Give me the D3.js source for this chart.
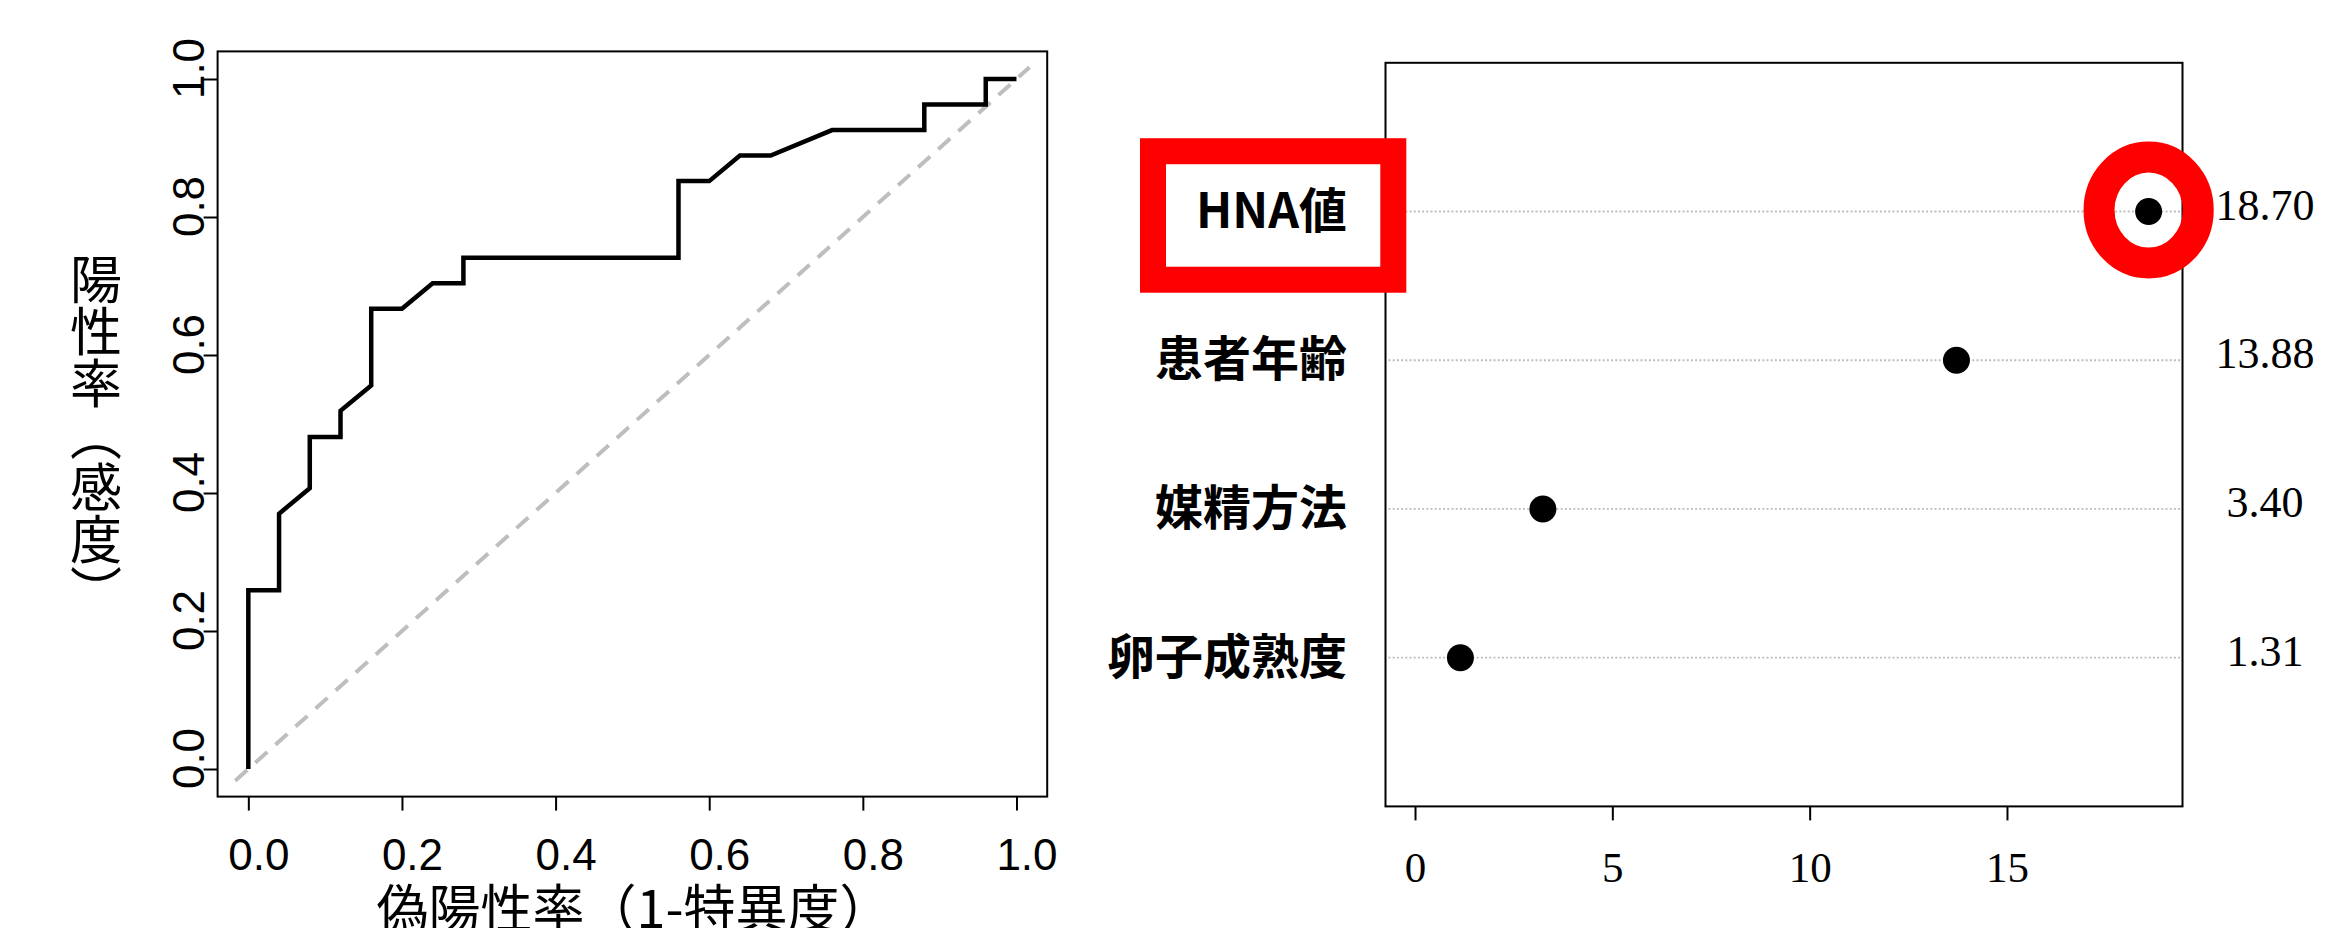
<!DOCTYPE html>
<html>
<head>
<meta charset="utf-8">
<script src="https://cdn.jsdelivr.net/npm/d3@7"></script>
<style>
	html, body { margin: 0; padding: 0; background: #fff; }
	#canvas { width: 2329px; height: 928px; }
</style>
</head>
<body>
<div id="canvas"></div>
<script>
// ROC curve (false positive rate vs sensitivity)
const fpr = [0, 0, 0.04, 0.04, 0.08, 0.08, 0.12, 0.12, 0.16, 0.16, 0.2, 0.24, 0.28, 0.28, 0.56, 0.56, 0.6, 0.64, 0.68, 0.76, 0.88, 0.88, 0.96, 0.96, 1.0];
const tpr = [0, 0.259, 0.259, 0.37, 0.407, 0.481, 0.481, 0.519, 0.556, 0.667, 0.667, 0.704, 0.704, 0.741, 0.741, 0.852, 0.852, 0.889, 0.889, 0.926, 0.926, 0.963, 0.963, 1.0, 1.0];
const diagonal = [-0.017, 1.017];
const rocTicks = [0, 0.2, 0.4, 0.6, 0.8, 1.0];

// variable importance dot chart
const factors = ['HNA値', '患者年齢', '媒精方法', '卵子成熟度'];
const importance = [18.59, 13.72, 3.24, 1.15];
const importanceLabels = ['18.70', '13.88', '3.40', '1.31'];
const importanceTicks = [0, 5, 10, 15];

const W = 2329, H = 928;

const svg = d3.select('#canvas').append('svg')
	.attr('width', W).attr('height', H)
	.style('background', '#fff');

drawRoc();
drawDots();

function drawRoc() {
	const x = d3.scaleLinear().domain([-0.04, 1.04]).range([217.6, 1047.2]);
	const y = d3.scaleLinear().domain([-0.04, 1.04]).range([796.6, 51.4]);
	const g = svg.append('g').attr('id', 'roc');

	// identity line
	g.append('line')
		.attr('x1', x(diagonal[0])).attr('y1', y(diagonal[0]))
		.attr('x2', x(diagonal[1])).attr('y2', y(diagonal[1]))
		.attr('stroke', '#bebebe')
		.attr('stroke-width', 4)
		.attr('stroke-dasharray', '16,11');

	const line = d3.line().x(d => x(d[0])).y(d => y(d[1]));
	g.append('path')
		.datum(d3.zip(fpr, tpr))
		.attr('d', line)
		.attr('fill', 'none')
		.attr('stroke', '#000')
		.attr('stroke-width', 4.5)
		.attr('stroke-linejoin', 'miter');

	g.append('rect')
		.attr('x', x.range()[0]).attr('y', y.range()[1])
		.attr('width', x.range()[1] - x.range()[0])
		.attr('height', y.range()[0] - y.range()[1])
		.attr('fill', 'none').attr('stroke', '#000').attr('stroke-width', 2);

	const fmt = d3.format('.1f');

	const xAxis = g.append('g')
		.attr('transform', `translate(0, ${y.range()[0]})`)
		.call(d3.axisBottom(x).tickValues(rocTicks).tickSize(14).tickSizeOuter(0).tickFormat(fmt));
	xAxis.select('.domain').remove();
	xAxis.selectAll('line').attr('stroke-width', 2);
	xAxis.selectAll('text')
		.attr('y', 73).attr('dy', null).attr('dx', 10)
		.style('font-family', 'Liberation Sans, Arial, sans-serif')
		.style('font-size', '44px').attr('fill', '#000');

	const yAxis = g.append('g')
		.attr('transform', `translate(${x.range()[0]}, 0)`)
		.call(d3.axisLeft(y).tickValues(rocTicks).tickSize(14).tickSizeOuter(0).tickFormat(fmt));
	yAxis.select('.domain').remove();
	yAxis.selectAll('line').attr('stroke-width', 2);
	yAxis.selectAll('text')
		.attr('x', 11).attr('y', 0).attr('dy', null)
		.attr('text-anchor', 'middle')
		.attr('transform', 'translate(-14, 0) rotate(-90)')
		.style('font-family', 'Liberation Sans, Arial, sans-serif')
		.style('font-size', '44px').attr('fill', '#000');

	g.append('text')
		.attr('x', 634).attr('y', 928)
		.attr('text-anchor', 'middle')
		.style('font-family', 'Noto Sans CJK JP, sans-serif')
		.style('font-size', '52px')
		.text('偽陽性率（1-特異度）');

	g.append('text')
		.attr('x', 96).attr('y', 435)
		.attr('text-anchor', 'middle')
		.style('writing-mode', 'vertical-rl')
		.style('font-family', 'Noto Sans CJK JP, sans-serif')
		.style('font-size', '52px')
		.text('陽性率（感度）');
}

function drawDots() {
	const x = d3.scaleLinear().domain([-0.748, 19.448]).range([1385.5, 2182.5]);
	const y = d3.scaleLinear().domain([0, 5]).range([806.4, 62.8]);
	const rowOf = i => factors.length - i;
	const g = svg.append('g').attr('id', 'dots');

	g.selectAll('.guide').data(factors).join('line')
		.attr('class', 'guide')
		.attr('x1', x.range()[0] + 3).attr('x2', x.range()[1] - 1)
		.attr('y1', (d, i) => y(rowOf(i))).attr('y2', (d, i) => y(rowOf(i)))
		.attr('stroke', '#bdbdbd').attr('stroke-width', 1.8)
		.attr('stroke-dasharray', '2,2.2');

	g.append('rect')
		.attr('x', x.range()[0]).attr('y', y.range()[1])
		.attr('width', x.range()[1] - x.range()[0])
		.attr('height', y.range()[0] - y.range()[1])
		.attr('fill', 'none').attr('stroke', '#000').attr('stroke-width', 2);

	g.selectAll('.dot').data(importance).join('circle')
		.attr('class', 'dot')
		.attr('cx', d => x(d))
		.attr('cy', (d, i) => y(rowOf(i)))
		.attr('r', 13.5)
		.attr('fill', '#000');

	const xAxis = g.append('g')
		.attr('transform', `translate(0, ${y.range()[0]})`)
		.call(d3.axisBottom(x).tickValues(importanceTicks).tickSize(14).tickSizeOuter(0));
	xAxis.select('.domain').remove();
	xAxis.selectAll('line').attr('stroke-width', 2);
	xAxis.selectAll('text')
		.attr('y', 75.6).attr('dy', null)
		.style('font-family', 'Liberation Serif, Times New Roman, serif')
		.style('font-size', '43px').attr('fill', '#000');

	g.selectAll('.factor').data(factors).join('text')
		.attr('class', 'factor')
		.attr('x', 1347)
		.attr('y', (d, i) => y(rowOf(i)) + 16)
		.attr('text-anchor', 'end')
		.style('font-family', 'Noto Sans CJK JP, sans-serif')
		.style('font-weight', 700)
		.style('font-size', '48px')
		.text(d => d);

	g.selectAll('.value').data(importanceLabels).join('text')
		.attr('class', 'value')
		.attr('x', 2265)
		.attr('y', (d, i) => y(rowOf(i)) + 8)
		.attr('text-anchor', 'middle')
		.style('font-family', 'Liberation Serif, Times New Roman, serif')
		.style('font-size', '44px')
		.text(d => d);

	// highlight of the top factor
	const topY = y(rowOf(0));
	g.append('rect')
		.attr('x', 1153).attr('y', topY - 60.3)
		.attr('width', 240.3).attr('height', 128.5)
		.attr('fill', 'none').attr('stroke', '#ff0000').attr('stroke-width', 26);

	g.append('ellipse')
		.attr('cx', x(importance[0])).attr('cy', topY - 1.5)
		.attr('rx', 49.6).attr('ry', 53)
		.attr('fill', 'none').attr('stroke', '#ff0000').attr('stroke-width', 31);
}
</script>
</body>
</html>
